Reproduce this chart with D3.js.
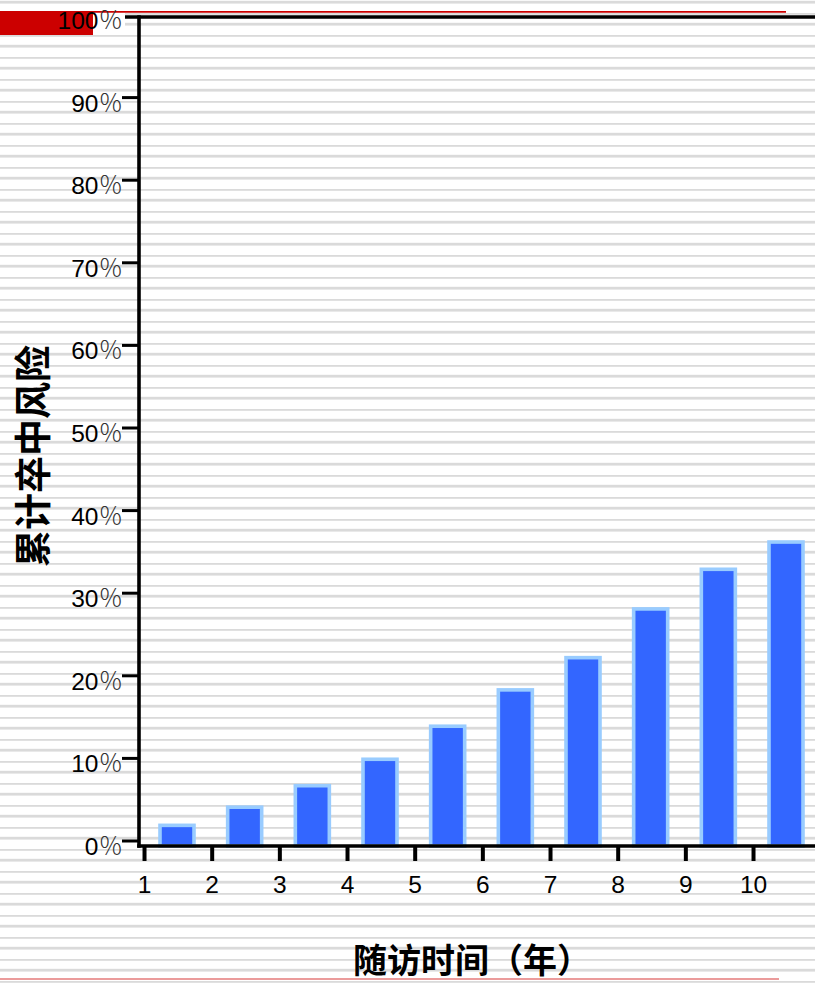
<!DOCTYPE html>
<html>
<head>
<meta charset="utf-8">
<script src="https://cdn.jsdelivr.net/npm/d3@7/dist/d3.min.js"></script>
<style>
  html, body { margin: 0; padding: 0; background: #fff; }
  svg { display: block; }
</style>
</head>
<body>
<svg id="chart" width="815" height="983"></svg>
<script>
// Follow-up years and cumulative stroke risk (%)
const years = [1, 2, 3, 4, 5, 6, 7, 8, 9, 10];
const risk = [2.5, 4.7, 7.3, 10.5, 14.5, 18.9, 22.8, 28.7, 33.5, 36.8];

// Axis ticks and their labels
const yTickValues = [0, 10, 20, 30, 40, 50, 60, 70, 80, 90, 100];
const yTickLabels = ["0", "10", "20", "30", "40", "50", "60", "70", "80", "90", "100"];
const xTickLabels = ["1", "2", "3", "4", "5", "6", "7", "8", "9", "10"];

const yTitle = "累计卒中风险";
const xTitle = "随访时间（年）";

const W = 815, H = 983;
const svg = d3.select("#chart");

const x = d3.scaleLinear().domain([1, 10]).range([177, 786]);
const y = d3.scaleLinear().domain([0, 100]).range([846, 20]);

const axisX = 139;          // vertical axis position
const baseY = y(0);         // horizontal axis position

// Ruled-paper background
const defs = svg.append("defs");
const pat = defs.append("pattern")
  .attr("id", "rules").attr("patternUnits", "userSpaceOnUse")
  .attr("width", W).attr("height", 22);
pat.append("rect").attr("x", 0).attr("y", 0.8).attr("width", W).attr("height", 2.8).attr("fill", "#dadada");
pat.append("rect").attr("x", 0).attr("y", 13).attr("width", W).attr("height", 1.8).attr("fill", "#dadada");

svg.append("rect").attr("width", W).attr("height", H).attr("fill", "#fff");
svg.append("rect").attr("width", W).attr("height", H).attr("fill", "url(#rules)");

// Header accents
svg.append("rect").attr("x", 0).attr("y", 11).attr("width", 93).attr("height", 24).attr("fill", "#cc0000");
svg.append("rect").attr("x", 93).attr("y", 12.7).attr("width", 32).attr("height", 22.3).attr("fill", "#fff");
svg.append("line").attr("x1", 0).attr("x2", 786).attr("y1", 11.9).attr("y2", 11.9)
  .attr("stroke", "#cc0000").attr("stroke-width", 1.8);

// Bars
svg.append("g").selectAll("rect")
  .data(years.map((yr, i) => ({ yr, v: risk[i] })))
  .join("rect")
  .attr("x", d => x(d.yr) - 17)
  .attr("width", 34)
  .attr("y", d => y(d.v))
  .attr("height", d => baseY - y(d.v))
  .attr("fill", "#3366ff")
  .attr("stroke", "#99ccff")
  .attr("stroke-width", 3.6);

// Axes frame
const axisG = svg.append("g").attr("stroke", "#000").attr("stroke-width", 3.6).attr("fill", "none");
axisG.append("line").attr("x1", axisX).attr("x2", axisX).attr("y1", y(100) - 4.8).attr("y2", baseY + 1.8);
axisG.append("line").attr("x1", axisX - 1.8).attr("x2", W).attr("y1", baseY).attr("y2", baseY);
axisG.append("line").attr("x1", 125).attr("x2", W).attr("y1", y(100) - 3).attr("y2", y(100) - 3);

// Y ticks
axisG.append("g").selectAll("line")
  .data(yTickValues.filter(v => v < 100))
  .join("line")
  .attr("x1", 122).attr("x2", axisX)
  .attr("y1", v => y(v) - 5).attr("y2", v => y(v) - 5)
  .attr("stroke-width", 3);

// X ticks
axisG.append("g").selectAll("line")
  .data(years)
  .join("line")
  .attr("x1", yr => x(yr - 0.48)).attr("x2", yr => x(yr - 0.48))
  .attr("y1", baseY).attr("y2", baseY + 15)
  .attr("stroke-width", 4);

// Y tick labels
const yl = svg.append("g").selectAll("text")
  .data(yTickValues)
  .join("text")
  .attr("x", 123)
  .attr("y", v => y(v) + 9)
  .attr("text-anchor", "end")
  .attr("font-family", "'Liberation Sans', Arial, sans-serif")
  .attr("font-size", 24.5)
  .attr("fill", "#000");
yl.append("tspan").text((v, i) => yTickLabels[i]);
yl.append("tspan")
  .attr("font-family", "'Noto Sans CJK SC', sans-serif")
  .attr("font-weight", 300)
  .attr("fill", "#333")
  .text("％");

// X tick labels
svg.append("g").selectAll("text")
  .data(years)
  .join("text")
  .attr("x", yr => x(yr - 0.48))
  .attr("y", 893)
  .attr("text-anchor", "middle")
  .attr("font-family", "'Liberation Sans', Arial, sans-serif")
  .attr("font-size", 24.5)
  .attr("fill", "#000")
  .text((yr, i) => xTickLabels[i]);

// Axis titles
svg.append("text")
  .attr("transform", "translate(47,456) rotate(-90)")
  .attr("text-anchor", "middle")
  .attr("font-family", "'Noto Sans CJK SC', sans-serif")
  .attr("font-weight", 700)
  .attr("font-size", 37)
  .attr("fill", "#000")
  .text(yTitle);

svg.append("text")
  .attr("x", 353)
  .attr("y", 973)
  .attr("font-family", "'Noto Sans CJK SC', sans-serif")
  .attr("font-weight", 700)
  .attr("font-size", 34)
  .attr("fill", "#000")
  .text(xTitle);

// Footer rule
svg.append("line").attr("x1", 0).attr("x2", 779).attr("y1", 979).attr("y2", 979)
  .attr("stroke", "#e57a7a").attr("stroke-width", 1.6);
</script>
</body>
</html>
